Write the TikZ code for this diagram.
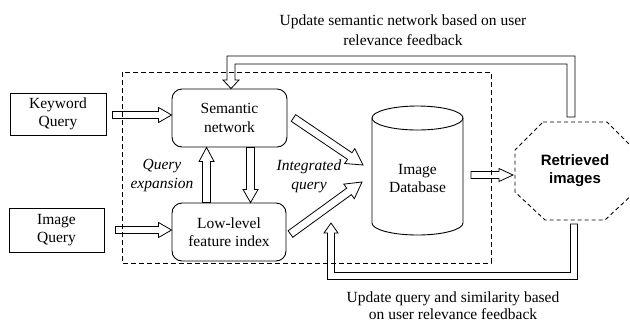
\documentclass[tikz,border=0pt]{standalone}
\usepackage{fontspec}
\setmainfont{Liberation Serif}
\newfontfamily\retfont{Liberation Sans}
\usetikzlibrary{calc}
\newcommand\dtext{\fontsize{15.5}{18.5}\selectfont}
\tikzset{
  plainbox/.style={draw, line width=0.9pt, inner sep=0pt, align=center, font=\dtext},
  roundbox/.style={plainbox, rounded corners=10pt},
  txt/.style={inner sep=0pt, align=center, font=\dtext},
  itxt/.style={inner sep=0pt, align=center, font=\dtext\itshape},
  rettxt/.style={inner sep=0pt, align=center, font=\retfont\bfseries\fontsize{15}{18}\selectfont},
  dashbox/.style={draw, line width=0.9pt, dash pattern=on 5pt off 3pt},
  arrowline/.style={draw, line width=0.8pt, line join=miter},
}
% hollow block arrow: start, end, shaft half width, head half width, head length
\newcommand\blockarrow[5]{%
  \coordinate (baS) at (#1);
  \coordinate (baE) at (#2);
  \coordinate (baB) at ($(baE)!#5!(baS)$);
  \draw[arrowline] ($(baS)!#3!90:(baE)$) -- ($(baB)!#3!-90:(baS)$) -- ($(baB)!#4!-90:(baS)$)
    -- (baE) -- ($(baB)!#4!90:(baS)$) -- ($(baB)!#3!90:(baS)$) -- ($(baS)!#3!-90:(baE)$) -- cycle;
}
\begin{document}
\begin{tikzpicture}[x=1pt, y=-1pt, line width=0.9pt]
\useasboundingbox (0,0) rectangle (630,322);

% boxes
\node[plainbox, minimum width=96pt, minimum height=42pt] (kw) at (58,114) {Keyword\\Query};
\node[plainbox, minimum width=95pt, minimum height=44pt] (iq) at (56.5,230) {Image\\Query};
\node[roundbox, minimum width=115pt, minimum height=58pt] (sem) at (229.5,118) {Semantic\\network};
\node[roundbox, minimum width=114pt, minimum height=58pt] (ll) at (229,232) {Low-level\\feature index};

% dashed frame
\draw[dashbox] (122,72) rectangle (491,263);

% database cylinder
\draw (372,118) -- (372,223) arc[start angle=180, end angle=360, x radius=45.5pt, y radius=12pt] -- (463,118);
\draw (417.5,118) ellipse[x radius=45.5pt, y radius=12pt];
\node[txt] (db) at (417.5,178.5) {Image\\Database};
\coordinate (dbin1) at (363,165);
\coordinate (dbin2) at (362,182);
\coordinate (dbout) at (471,175);

% retrieved images octagon
\node[rettxt] (ret) at (575,171) {Retrieved\\images};
\draw[dashbox, dash pattern=on 4pt off 3pt] (543,122) -- (607,122) -- (635,150) -- (635,192) -- (605,220) -- (545,220) -- (515,192) -- (515,150) -- cycle;
\coordinate (retw) at (513,175);

% labels
\node[itxt] (qe) at (162,175.5) {Query\\expansion};
\node[itxt] (iqy) at (309,176.5) {Integrated\\query};
\node[txt, font=\fontsize{15.5}{20}\selectfont] (toplbl) at (403,30) {Update semantic network based on user\\relevance feedback};
\node[txt, font=\fontsize{15.5}{17}\selectfont] (botlbl) at (453,306) {Update query and similarity based\\on user relevance feedback};

% arrows
\blockarrow{$(kw.east)+(6,1)$}{$(sem.west |- kw.east)+(0,1)$}{3.5pt}{7.5pt}{13pt}
\blockarrow{$(iq.east)+(11,0)$}{ll.west |- iq.east}{3.5pt}{7.5pt}{13pt}
\blockarrow{$(ll.north west)+(35,0)$}{$(sem.south west)+(35,0)$}{4pt}{7.5pt}{14pt}
\blockarrow{$(sem.south west)+(79,0)$}{$(ll.north west)+(79,0)$}{4pt}{7.5pt}{13pt}
\blockarrow{$(sem.east)+(6,0)$}{dbin1}{4pt}{9pt}{16pt}
\blockarrow{$(ll.east)+(4,2)$}{dbin2}{4pt}{9pt}{16pt}
\blockarrow{dbout}{retw}{3.5pt}{6.5pt}{14pt}

% feedback loops
\draw[arrowline] (567,117) -- (567,64) -- (235,64) -- (235,80) -- (239,80) -- ($(sem.north)+(1.5,0)$)
  -- (223,80) -- (227,80) -- (227,56) -- (575,56) -- (575,117) -- cycle;
\draw[arrowline] (570.5,224) -- (570.5,272.5) -- (334.5,272.5) -- (334.5,233) -- (338,233) -- (331,223)
  -- (324,233) -- (327.5,233) -- (327.5,279.5) -- (577.5,279.5) -- (577.5,224) -- cycle;
\end{tikzpicture}
\end{document}
